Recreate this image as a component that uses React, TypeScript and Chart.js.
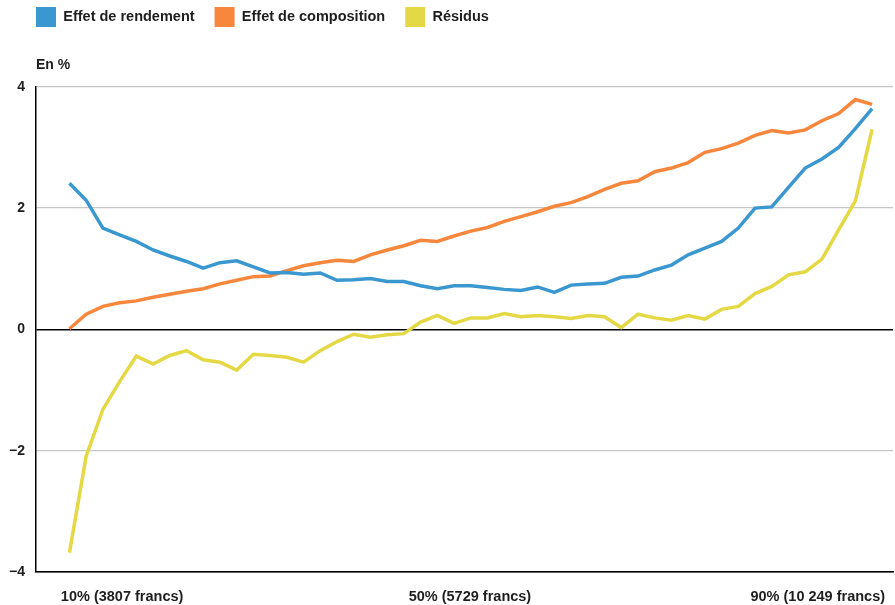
import React, { useEffect, useRef } from 'react';
import { Chart, registerables } from 'chart.js';

Chart.register(...registerables);

// Percentiles of the distribution (x values)
const percentiles = [
  2, 4, 6, 8, 10, 12, 14, 16, 18, 20, 22, 24, 26, 28, 30, 32, 34,
  36, 38, 40, 42, 44, 46, 48, 50, 52, 54, 56, 58, 60, 62, 64, 66,
  68, 70, 72, 74, 76, 78, 80, 82, 84, 86, 88, 90, 92, 94, 96, 98,
];

const effetRendement = [
  2.41, 2.13, 1.67, 1.56, 1.45, 1.31, 1.21, 1.12, 1.01, 1.10, 1.13, 1.03, 0.93, 0.94, 0.91, 0.93, 0.81,
  0.82, 0.84, 0.79, 0.79, 0.72, 0.67, 0.72, 0.72, 0.69, 0.66, 0.64, 0.70, 0.61, 0.73, 0.75, 0.76,
  0.86, 0.88, 0.98, 1.06, 1.23, 1.34, 1.45, 1.67, 2.00, 2.02, 2.34, 2.66, 2.81, 3.00, 3.31, 3.64,
];

const effetComposition = [
  0.01, 0.25, 0.38, 0.44, 0.47, 0.53, 0.58, 0.63, 0.67, 0.75, 0.81, 0.87, 0.88, 0.97, 1.05, 1.10, 1.14,
  1.12, 1.23, 1.31, 1.38, 1.47, 1.45, 1.54, 1.62, 1.68, 1.78, 1.86, 1.94, 2.03, 2.09, 2.19, 2.31,
  2.41, 2.45, 2.60, 2.66, 2.75, 2.92, 2.98, 3.07, 3.20, 3.28, 3.24, 3.29, 3.44, 3.56, 3.79, 3.71,
];

const residus = [
  -3.68, -2.09, -1.32, -0.86, -0.44, -0.57, -0.43, -0.35, -0.50, -0.54, -0.67, -0.41, -0.43, -0.46, -0.54, -0.35, -0.20,
  -0.08, -0.13, -0.09, -0.07, 0.12, 0.23, 0.10, 0.19, 0.19, 0.26, 0.21, 0.23, 0.21, 0.18, 0.23, 0.21,
  0.03, 0.25, 0.19, 0.15, 0.23, 0.17, 0.33, 0.38, 0.59, 0.71, 0.90, 0.95, 1.16, 1.64, 2.12, 3.30,
];

const seriesNames = ['Effet de rendement', 'Effet de composition', 'Résidus'];
const seriesColors = ['#3a97cf', '#f7873d', '#e4d944'];

const xTickLabels = ['10% (3807 francs)', '50% (5729 francs)', '90% (10 249 francs)'];
const xTickAt = [8.3, 49.9, 91.5];
const yUnitLabel = 'En %';

const FONT = "'Liberation Sans', Arial, sans-serif";
const TEXT = '#1e1e1e';

// Shift the legend so its boxes line up with the plot's left edge and sit near the top.
const legendShift = {
  id: 'legendShift',
  afterLayout(chart: any) {
    const lg = chart.legend;
    if (!lg) return;
    lg.left += 16;
    lg.right += 16;
    lg.top -= 13;
    lg.bottom -= 13;
  },
};

export default function App() {
  const canvasRef = useRef<HTMLCanvasElement | null>(null);

  useEffect(() => {
    const canvas = canvasRef.current;
    if (!canvas) return;

    const seriesValues = [effetRendement, effetComposition, residus];

    const chart = new Chart(canvas, {
      type: 'line',
      data: {
        datasets: seriesValues.map((vals, k) => ({
          label: seriesNames[k],
          data: percentiles.map((p, i) => ({ x: p, y: vals[i] })),
          borderColor: seriesColors[k],
          backgroundColor: seriesColors[k],
          borderWidth: 3.5,
          pointRadius: 0,
          pointHoverRadius: 0,
          tension: 0,
          fill: false,
        })),
      },
      plugins: [legendShift],
      options: {
        animation: false,
        responsive: true,
        maintainAspectRatio: false,
        layout: { padding: { left: 0, right: 2, top: 0, bottom: -17.4 } },
        plugins: {
          legend: {
            position: 'top',
            align: 'start',
            weight: 3000,
            labels: {
              boxWidth: 20,
              boxHeight: 20,
              padding: 20,
              color: TEXT,
              font: { family: FONT, size: 14.5, weight: 'bold' },
              generateLabels: (c: any) =>
                Chart.defaults.plugins.legend.labels
                  .generateLabels(c)
                  .map((l: any) => ({ ...l, lineWidth: 0, fillStyle: l.strokeStyle })),
            },
          },
          subtitle: {
            display: true,
            text: yUnitLabel,
            position: 'top',
            align: 'start',
            fullSize: false,
            color: TEXT,
            font: { family: FONT, size: 14, weight: 'bold' },
            padding: { top: 7, bottom: 13 },
          },
          tooltip: { enabled: false },
        },
        scales: {
          x: {
            type: 'linear',
            min: -2,
            max: 100.5,
            grid: { display: false, drawTicks: false },
            border: { display: true, color: '#000', width: 1.5 },
            afterBuildTicks: (axis: any) => {
              axis.ticks = xTickAt.map((v) => ({ value: v }));
            },
            afterFit: (scale: any) => {
              scale.paddingLeft = 0;
              scale.paddingRight = 0;
            },
            ticks: {
              autoSkip: false,
              maxRotation: 0,
              padding: 16.5,
              color: TEXT,
              font: { family: FONT, size: 14.5, weight: 'bold' },
              callback: (_v: any, i: number) => xTickLabels[i],
            },
          },
          y: {
            min: -4,
            max: 4,
            afterFit: (scale: any) => {
              scale.width = 36;
            },
            grid: {
              drawTicks: false,
              color: (ctx: any) =>
                ctx.tick && (ctx.tick.value === 0 || ctx.tick.value === -4) ? '#000' : '#c6c6c6',
              lineWidth: (ctx: any) => (ctx.tick && ctx.tick.value === 0 ? 1.6 : 1.3),
            },
            border: { display: true, color: '#000', width: 1.5 },
            ticks: {
              stepSize: 2,
              padding: 11,
              color: TEXT,
              font: { family: FONT, size: 14, weight: 'bold' },
              callback: (v: any) => (v < 0 ? '\u2212' + Math.abs(v) : String(v)),
            },
          },
        },
      },
    });

    return () => chart.destroy();
  }, []);

  return (
    <div style={{ position: 'fixed', left: 0, top: 0, width: 895, height: 605, background: '#fff' }}>
      <canvas ref={canvasRef} />
    </div>
  );
}
